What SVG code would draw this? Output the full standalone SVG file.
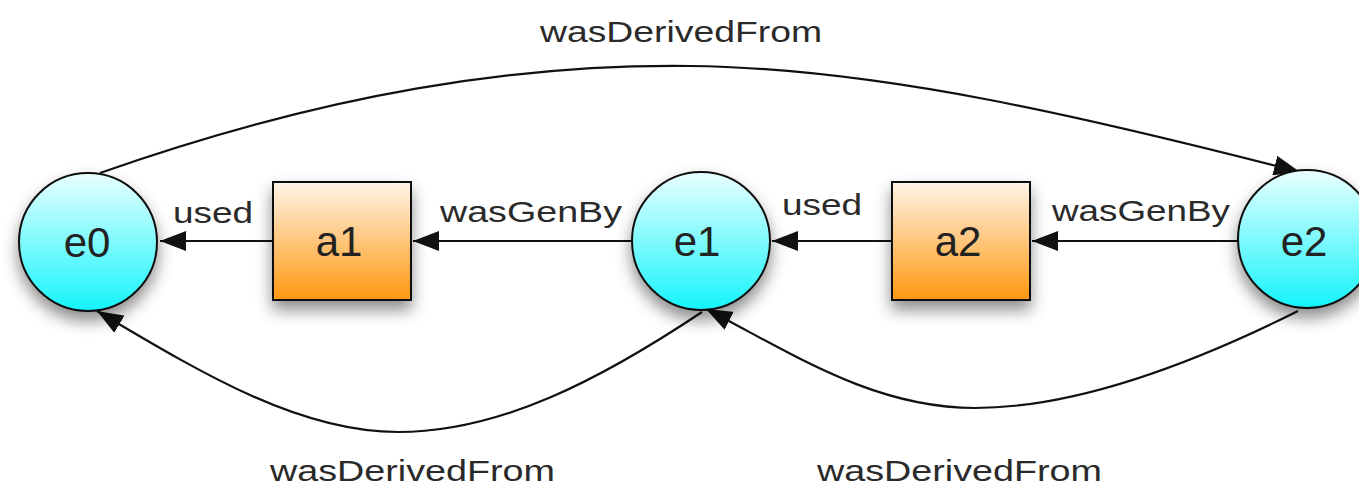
<svg xmlns="http://www.w3.org/2000/svg" width="1359" height="485" viewBox="0 0 1359 485">
  <defs>
    <linearGradient id="entityFill" x1="0" y1="0" x2="0" y2="1">
      <stop offset="0" stop-color="#eaffff"/>
      <stop offset="1" stop-color="#14f4fb"/>
    </linearGradient>
    <linearGradient id="activityFill" x1="0" y1="0" x2="0" y2="1">
      <stop offset="0" stop-color="#fff4e8"/>
      <stop offset="1" stop-color="#ff980f"/>
    </linearGradient>
    <filter id="shadow" x="-30%" y="-30%" width="160%" height="170%">
      <feDropShadow dx="0" dy="9" stdDeviation="8" flood-color="#000" flood-opacity="0.45"/>
    </filter>
    <marker id="arrow" markerUnits="userSpaceOnUse" markerWidth="28" markerHeight="20" refX="26" refY="10" orient="auto">
      <path d="M0,0 L26,10 L0,20 Z" fill="#111"/>
    </marker>
    <style>
      .entity { fill: url(#entityFill); stroke: #111; stroke-width: 2; filter: url(#shadow); }
      .activity { fill: url(#activityFill); stroke: #111; stroke-width: 2; filter: url(#shadow); }
      .edge { fill: none; stroke: #111; stroke-width: 2.2; marker-end: url(#arrow); }
      .node-label { font-family: "Liberation Sans", Arial, sans-serif; font-size: 42px; fill: #222; text-anchor: middle; }
      .edge-label { font-family: "Liberation Sans", Arial, sans-serif; font-size: 29px; fill: #2a2a2a; }
    </style>
  </defs>

  <!-- connectors -->
  <g id="connectors">
    <path class="edge" d="M100,173 C330,92 520,64 690,66 C880,68 1090,118 1300,172"/>
    <path class="edge" d="M702,312 C600,380 500,432 398,432 C298,432 200,372 97,311"/>
    <path class="edge" d="M1298,311 C1200,360 1080,408 975,408 C872,408 790,352 706,309"/>
    <path class="edge" d="M273,241 L160,241"/>
    <path class="edge" d="M632,241 L413,241"/>
    <path class="edge" d="M892,241 L772,241"/>
    <path class="edge" d="M1238,241 L1032,241"/>

    <text class="edge-label" x="540" y="42" textLength="282" lengthAdjust="spacingAndGlyphs">wasDerivedFrom</text>
    <text class="edge-label" x="270" y="481" textLength="285" lengthAdjust="spacingAndGlyphs">wasDerivedFrom</text>
    <text class="edge-label" x="817" y="481" textLength="285" lengthAdjust="spacingAndGlyphs">wasDerivedFrom</text>
    <text class="edge-label" x="173" y="223" textLength="80" lengthAdjust="spacingAndGlyphs">used</text>
    <text class="edge-label" x="440" y="222" textLength="182" lengthAdjust="spacingAndGlyphs">wasGenBy</text>
    <text class="edge-label" x="782" y="215" textLength="80" lengthAdjust="spacingAndGlyphs">used</text>
    <text class="edge-label" x="1052" y="221" textLength="178" lengthAdjust="spacingAndGlyphs">wasGenBy</text>
  </g>

  <!-- entities -->
  <g id="e0">
    <circle class="entity" cx="88" cy="242" r="69"/>
    <text class="node-label" x="87" y="257">e0</text>
  </g>
  <g id="e1">
    <circle class="entity" cx="701" cy="241" r="69"/>
    <text class="node-label" x="697" y="256">e1</text>
  </g>
  <g id="e2">
    <circle class="entity" cx="1307" cy="239" r="69"/>
    <text class="node-label" x="1304" y="256">e2</text>
  </g>

  <!-- activities -->
  <g id="a1">
    <rect class="activity" x="273" y="182" width="138" height="118"/>
    <text class="node-label" x="339" y="256">a1</text>
  </g>
  <g id="a2">
    <rect class="activity" x="892" y="182" width="138" height="118"/>
    <text class="node-label" x="958" y="256">a2</text>
  </g>
</svg>
